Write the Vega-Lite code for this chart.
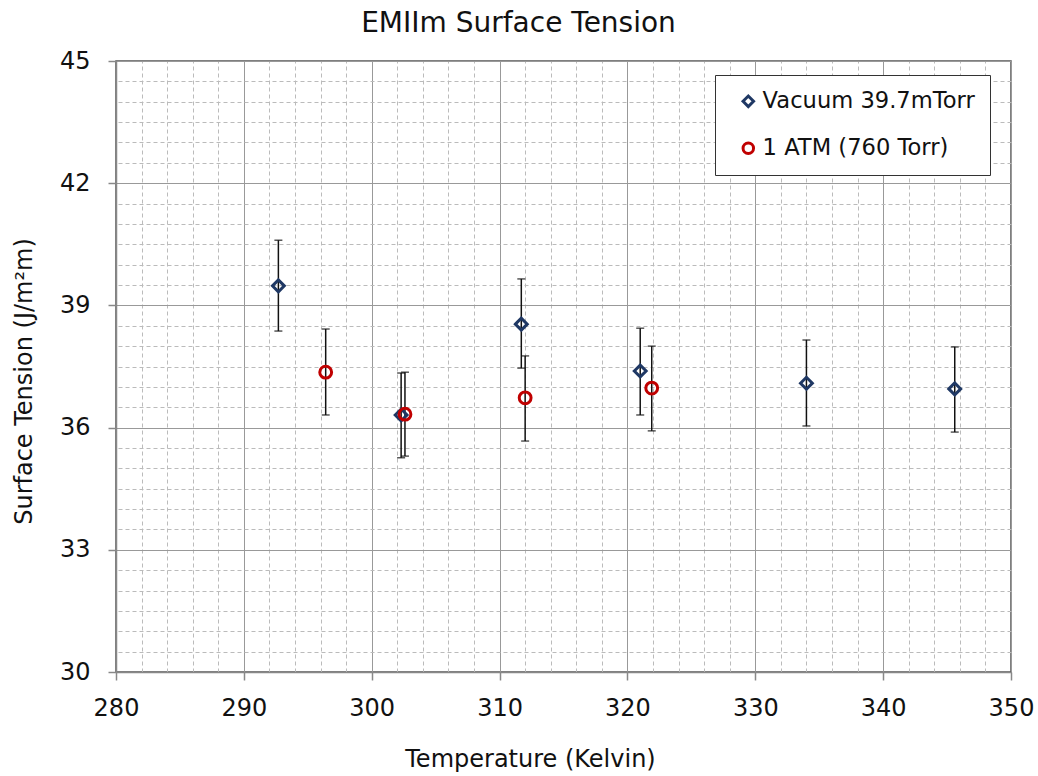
{
  "$schema": "https://vega.github.io/schema/vega-lite/v6.json",
  "width": 895,
  "height": 611,
  "autosize": "none",
  "padding": {"left": 116, "top": 61, "right": 27, "bottom": 104},
  "background": "white",
  "config": {
    "font": "DejaVu Sans",
    "view": {"stroke": "#555", "strokeWidth": 1.5}
  },
  "title": {
    "text": "EMIIm Surface Tension",
    "fontSize": 28,
    "fontWeight": "normal",
    "color": "#111",
    "anchor": "middle",
    "frame": "group",
    "dx": -45,
    "offset": 11
  },
  "data": {
    "values": [
      {"series": "Vacuum 39.7mTorr", "T": 292.7, "val": 39.48, "lo": 38.37, "hi": 40.6},
      {"series": "Vacuum 39.7mTorr", "T": 302.3, "val": 36.31, "lo": 35.26, "hi": 37.34},
      {"series": "Vacuum 39.7mTorr", "T": 311.7, "val": 38.54, "lo": 37.46, "hi": 39.65},
      {"series": "Vacuum 39.7mTorr", "T": 321.0, "val": 37.39, "lo": 36.31, "hi": 38.44},
      {"series": "Vacuum 39.7mTorr", "T": 334.0, "val": 37.09, "lo": 36.04, "hi": 38.15},
      {"series": "Vacuum 39.7mTorr", "T": 345.6, "val": 36.95, "lo": 35.89, "hi": 37.98},
      {"series": "1 ATM (760 Torr)", "T": 296.4, "val": 37.36, "lo": 36.31, "hi": 38.42},
      {"series": "1 ATM (760 Torr)", "T": 302.6, "val": 36.33, "lo": 35.3, "hi": 37.36},
      {"series": "1 ATM (760 Torr)", "T": 312.0, "val": 36.73, "lo": 35.67, "hi": 37.76},
      {"series": "1 ATM (760 Torr)", "T": 321.9, "val": 36.97, "lo": 35.92, "hi": 38.0}
    ]
  },
  "resolve": {"axis": {"x": "independent", "y": "independent"}},
  "layer": [
    {
      "mark": {"type": "rule", "color": "#111", "strokeWidth": 1.5},
      "encoding": {
        "x": {
          "field": "T", "type": "quantitative",
          "scale": {"domain": [280, 350], "nice": false, "zero": false},
          "axis": {
            "orient": "top", "values": [282,284,286,288,292,294,296,298,302,304,306,308,312,314,316,318,322,324,326,328,332,334,336,338,342,344,346,348],
            "grid": true, "gridColor": "#bbb", "gridDash": [4, 3], "gridWidth": 1,
            "labels": false, "ticks": false, "domain": false, "title": null
          }
        },
        "y": {
          "field": "lo", "type": "quantitative",
          "scale": {"domain": [30, 45], "nice": false, "zero": false},
          "axis": {
            "orient": "right", "values": [30.5,31,31.5,32,32.5,33.5,34,34.5,35,35.5,36.5,37,37.5,38,38.5,39.5,40,40.5,41,41.5,42.5,43,43.5,44,44.5],
            "grid": true, "gridColor": "#bbb", "gridDash": [4, 3], "gridWidth": 1,
            "labels": false, "ticks": false, "domain": false, "title": null
          }
        },
        "y2": {"field": "hi"}
      }
    },
    {
      "mark": {"type": "tick", "orient": "horizontal", "color": "#111", "size": 8, "thickness": 1.5},
      "encoding": {
        "x": {"field": "T", "type": "quantitative", "axis": null},
        "y": {"field": "lo", "type": "quantitative", "axis": null}
      }
    },
    {
      "mark": {"type": "tick", "orient": "horizontal", "color": "#111", "size": 8, "thickness": 1.5},
      "encoding": {
        "x": {"field": "T", "type": "quantitative", "axis": null},
        "y": {"field": "hi", "type": "quantitative", "axis": null}
      }
    },
    {
      "mark": {"type": "point", "filled": false, "strokeWidth": 3, "opacity": 1},
      "encoding": {
        "x": {
          "field": "T", "type": "quantitative",
          "axis": {
            "orient": "bottom", "values": [280, 290, 300, 310, 320, 330, 340, 350],
            "grid": true, "gridColor": "#999", "gridWidth": 1,
            "domainColor": "#888", "domainWidth": 1.5,
            "tickColor": "#888", "tickSize": 8, "tickWidth": 1.5,
            "labelFontSize": 24, "labelColor": "#111", "labelPadding": 16, "labelFlush": false,
            "title": "Temperature (Kelvin)", "titleFontSize": 24, "titleFontWeight": "normal", "titleColor": "#111",
            "titleX": 414, "titleY": 94, "titleBaseline": "alphabetic"
          }
        },
        "y": {
          "field": "val", "type": "quantitative",
          "axis": {
            "orient": "left", "values": [30, 33, 36, 39, 42, 45],
            "grid": true, "gridColor": "#999", "gridWidth": 1,
            "domainColor": "#888", "domainWidth": 1.5,
            "tickColor": "#888", "tickSize": 8, "tickWidth": 1.5,
            "labelFontSize": 24, "labelColor": "#111", "labelPadding": 18, "labelFlush": false,
            "title": "Surface Tension (J/m²m)", "titleFontSize": 24, "titleFontWeight": "normal", "titleColor": "#111",
            "titleX": -85, "titleY": 320, "titleBaseline": "alphabetic"
          }
        },
        "color": {
          "field": "series", "type": "nominal",
          "scale": {"domain": ["Vacuum 39.7mTorr", "1 ATM (760 Torr)"], "range": ["#1F3864", "#C00000"]},
          "legend": {
            "title": null, "orient": "none", "legendX": 599, "legendY": 14,
            "fillColor": "white", "strokeColor": "#333", "padding": 15,
            "symbolOffset": 7, "labelFontSize": 22.6, "labelColor": "#111", "labelOffset": 3,
            "rowPadding": 24, "symbolSize": 110, "symbolStrokeWidth": 3, "labelLimit": 400
          }
        },
        "shape": {
          "field": "series", "type": "nominal",
          "scale": {"domain": ["Vacuum 39.7mTorr", "1 ATM (760 Torr)"], "range": ["diamond", "circle"]}
        },
        "size": {"value": 140}
      }
    }
  ]
}
